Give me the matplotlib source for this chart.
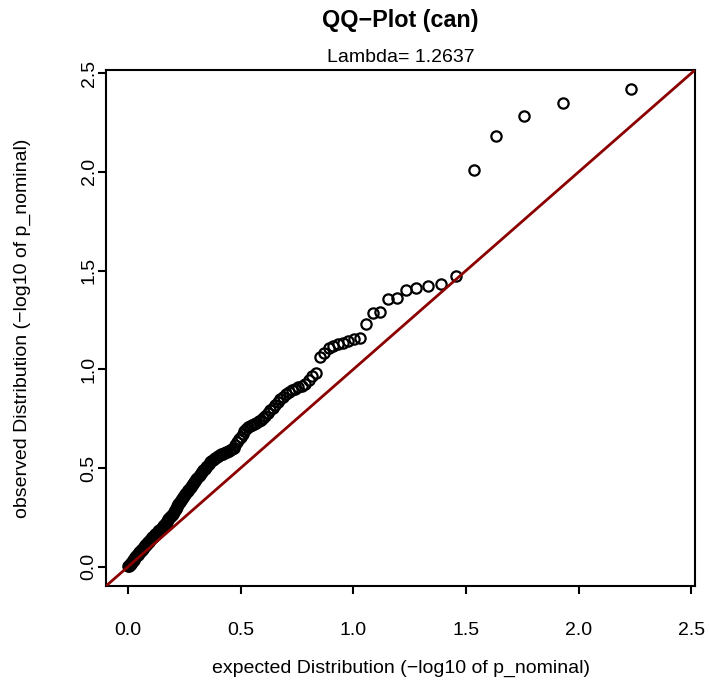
import matplotlib
matplotlib.use("Agg")
import matplotlib.pyplot as plt

plt.rcParams['font.family'] = ['Liberation Sans', 'DejaVu Sans']

title = "QQ\u2212Plot (can)"
subtitle = "Lambda= 1.2637"
xlabel = "expected Distribution (\u2212log10 of p_nominal)"
ylabel = "observed Distribution (\u2212log10 of p_nominal)"
tick_values = [0.0, 0.5, 1.0, 1.5, 2.0, 2.5]
tick_labels = ["0.0", "0.5", "1.0", "1.5", "2.0", "2.5"]

# expected -log10(p) (rank 1 = most significant)
expected = [
    2.233, 1.932, 1.756, 1.631, 1.534, 1.455, 1.388, 1.330, 1.279, 1.233,
    1.192, 1.154, 1.119, 1.087, 1.057, 1.029, 1.003, 0.978, 0.954, 0.932,
    0.911, 0.891, 0.871, 0.853, 0.835, 0.818, 0.802, 0.786, 0.771, 0.756,
    0.742, 0.728, 0.714, 0.702, 0.689, 0.677, 0.665, 0.653, 0.642, 0.631,
    0.620, 0.610, 0.600, 0.590, 0.580, 0.570, 0.561, 0.552, 0.543, 0.534,
    0.525, 0.517, 0.509, 0.501, 0.493, 0.485, 0.477, 0.470, 0.462, 0.455,
    0.448, 0.441, 0.434, 0.427, 0.420, 0.413, 0.407, 0.400, 0.394, 0.388,
    0.382, 0.376, 0.370, 0.364, 0.358, 0.352, 0.347, 0.341, 0.335, 0.330,
    0.325, 0.319, 0.314, 0.309, 0.304, 0.299, 0.293, 0.289, 0.284, 0.279,
    0.274, 0.269, 0.265, 0.260, 0.255, 0.251, 0.246, 0.242, 0.237, 0.233,
    0.229, 0.224, 0.220, 0.216, 0.212, 0.208, 0.204, 0.200, 0.196, 0.192,
    0.188, 0.184, 0.180, 0.176, 0.172, 0.169, 0.165, 0.161, 0.157, 0.154,
    0.150, 0.147, 0.143, 0.140, 0.136, 0.133, 0.129, 0.126, 0.122, 0.119,
    0.116, 0.112, 0.109, 0.106, 0.103, 0.099, 0.096, 0.093, 0.090, 0.087,
    0.084, 0.081, 0.078, 0.075, 0.072, 0.069, 0.066, 0.063, 0.060, 0.057,
    0.054, 0.051, 0.048, 0.045, 0.043, 0.040, 0.037, 0.034, 0.032, 0.029,
    0.026, 0.023, 0.021, 0.018, 0.016, 0.013, 0.010, 0.008, 0.005, 0.003,
]

# observed -log10(p_nominal), same order
observed = [
    2.419, 2.348, 2.283, 2.182, 2.010, 1.473, 1.434, 1.421, 1.414, 1.401,
    1.359, 1.355, 1.291, 1.286, 1.232, 1.160, 1.152, 1.143, 1.136, 1.131,
    1.120, 1.110, 1.081, 1.064, 0.980, 0.965, 0.944, 0.924, 0.916, 0.910,
    0.903, 0.895, 0.886, 0.875, 0.862, 0.850, 0.835, 0.820, 0.806, 0.792,
    0.778, 0.765, 0.755, 0.745, 0.737, 0.730, 0.725, 0.720, 0.714, 0.708,
    0.700, 0.690, 0.675, 0.660, 0.645, 0.630, 0.615, 0.603, 0.595, 0.591,
    0.587, 0.584, 0.581, 0.578, 0.574, 0.571, 0.567, 0.562, 0.557, 0.552,
    0.548, 0.543, 0.538, 0.530, 0.522, 0.513, 0.506, 0.497, 0.489, 0.482,
    0.475, 0.467, 0.460, 0.452, 0.445, 0.437, 0.428, 0.421, 0.413, 0.406,
    0.399, 0.390, 0.383, 0.375, 0.367, 0.360, 0.352, 0.345, 0.338, 0.331,
    0.324, 0.316, 0.309, 0.302, 0.294, 0.286, 0.278, 0.270, 0.264, 0.258,
    0.252, 0.246, 0.240, 0.234, 0.228, 0.223, 0.217, 0.211, 0.206, 0.202,
    0.197, 0.193, 0.189, 0.185, 0.180, 0.176, 0.172, 0.168, 0.164, 0.160,
    0.156, 0.152, 0.149, 0.145, 0.141, 0.136, 0.132, 0.128, 0.125, 0.121,
    0.117, 0.113, 0.109, 0.105, 0.101, 0.097, 0.093, 0.088, 0.084, 0.081,
    0.077, 0.073, 0.069, 0.066, 0.062, 0.058, 0.053, 0.049, 0.045, 0.041,
    0.037, 0.033, 0.029, 0.025, 0.021, 0.017, 0.013, 0.010, 0.006, 0.004,
]

W, H = 710, 691
fig = plt.figure(figsize=(W / 100, H / 100), dpi=100)
left, right, top, bottom = 106, 695, 70, 586
ax = fig.add_axes([left / W, 1 - bottom / H, (right - left) / W, (bottom - top) / H])

m = max(observed)
lims = (-0.04 * m, 1.04 * m)

ax.plot(expected, observed, linestyle='none', marker='o', markersize=7.4,
        markerfacecolor='none', markeredgecolor='black', markeredgewidth=1.6,
        zorder=2)
ax.axline((0, 0), slope=1, color='#8B0000', linewidth=2.0, zorder=3)

ax.set_xlim(lims)
ax.set_ylim(lims)
ax.set_xticks(tick_values)
ax.set_xticklabels(tick_labels)
ax.set_yticks(tick_values)
ax.set_yticklabels(tick_labels, rotation=90, va='center')

for s in ax.spines.values():
    s.set_linewidth(1.5)
ax.tick_params(direction='out', length=6, width=1.5, labelsize=14, colors='black')
ax.tick_params(axis='x', pad=20)
ax.tick_params(axis='y', pad=0)

fig.text(0.5 * (left + right) / W, 1 - 20 / H, title, ha='center', va='center',
         fontsize=16.8, fontweight='bold')
fig.text(0.5 * (left + right) / W, 1 - 58 / H, subtitle, ha='center', va='center',
         fontsize=14)
fig.text(0.5 * (left + right) / W, 1 - 668 / H, xlabel, ha='center', va='center',
         fontsize=14)
fig.text(22 / W, 1 - 0.5 * (top + bottom) / H, ylabel, ha='center', va='center',
         rotation=90, fontsize=14)

fig.savefig("out.png", dpi=100, facecolor='white')
